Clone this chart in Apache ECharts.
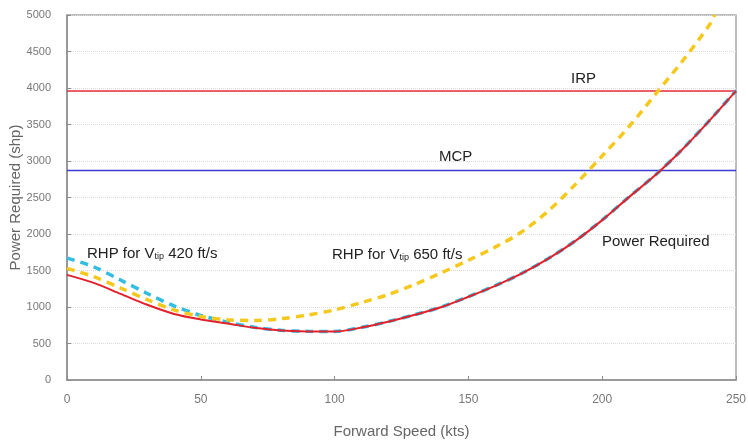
<!DOCTYPE html>
<html>
<head>
<meta charset="utf-8">
<script src="https://cdn.jsdelivr.net/npm/echarts@6/dist/echarts.min.js"></script>
<style>html,body{margin:0;padding:0;background:#fff;}#c{width:748px;height:442px;}</style>
</head>
<body>
<div id="c"></div>
<script>
var speeds = [0,10,20,30,40,50,60,70,80,90,100,110,120,130,140,150,160,170,180,190,200,210,220,230,240,250];
var powerRequired = [1440,1330,1180,1030,905,830,775,715,678,665,663,718,798,893,1000,1140,1290,1460,1665,1905,2190,2505,2810,3160,3550,3960];
var rhp420 = [1670,1550,1370,1185,1015,885,792,722,680,667,665,720,800,895,1002,1142,1292,1462,1667,1907,2192,2507,2812,3162,3552,3962];
var speeds650 = [0,10,20,30,40,50,60,70,80,90,100,110,120,130,140,150,160,170,180,190,200,210,220,230,240,242];
var rhp650 = [1530,1415,1260,1100,960,870,825,815,840,890,960,1060,1170,1310,1470,1640,1820,2030,2320,2680,3070,3470,3920,4370,4860,5000];
var irp = 3960;
var mcp = 2870;

function pairs(xs, ys){ return xs.map(function(x,i){ return [x, ys[i]]; }); }

var chart = echarts.init(document.getElementById('c'), null, {renderer:'canvas'});
var font = 'Liberation Sans, Arial, sans-serif';
var rich = {
  a:{fontSize:15,fontFamily:font,fill:'#222'},
  s:{fontSize:9,fontFamily:font,fill:'#222',verticalAlign:'bottom',padding:[7,0,0,0]}
};
chart.setOption({
  animation:false,
  backgroundColor:'#fff',
  grid:{left:67,right:12,top:15,bottom:62,show:true,borderColor:'#a6a6a6',borderWidth:1.5,containLabel:false,outerBoundsMode:'none'},
  xAxis:{
    type:'value',min:0,max:250,interval:50,
    name:'Forward Speed (kts)',nameLocation:'middle',nameGap:44,nameMoveOverlap:false,
    nameTextStyle:{color:'#666',fontSize:15,fontFamily:font},
    axisLine:{lineStyle:{color:'#8c8c8c',width:1.5}},
    axisTick:{inside:true,length:4,lineStyle:{color:'#8c8c8c'}},
    axisLabel:{color:'#777',fontSize:12,fontFamily:font,margin:14},
    splitLine:{show:false}
  },
  yAxis:{
    type:'value',min:0,max:5000,interval:500,
    name:'Power Required (shp)',nameLocation:'middle',nameGap:44,nameMoveOverlap:false,
    nameTextStyle:{color:'#666',fontSize:15,fontFamily:font},
    axisLine:{show:true,lineStyle:{color:'#8c8c8c',width:1.5}},
    axisTick:{show:true,inside:true,length:4,lineStyle:{color:'#8c8c8c'}},
    axisLabel:{color:'#777',fontSize:11,fontFamily:font,margin:16,formatter:function(v){return String(v);}},
    splitLine:{show:true,lineStyle:{color:'#d9d9d9',type:'dotted',width:1}}
  },
  series:[
    {type:'line',name:'IRP',data:[[0,irp],[250,irp]],showSymbol:false,lineStyle:{color:'#e8283a',width:1.5},z:2},
    {type:'line',name:'MCP',data:[[0,mcp],[250,mcp]],showSymbol:false,lineStyle:{color:'#3a3ad6',width:1.5},z:2},
    {type:'line',name:'RHP 420',data:pairs(speeds,rhp420),smooth:0.3,showSymbol:false,lineStyle:{color:'#33bde0',width:3.5,type:[8,6]},z:3},
    {type:'line',name:'Power Required',data:pairs(speeds,powerRequired),smooth:0.3,showSymbol:false,lineStyle:{color:'#e3202c',width:2},z:4},
    {type:'line',name:'RHP 650',data:pairs(speeds650,rhp650),smooth:0.3,showSymbol:false,lineStyle:{color:'#f5c81e',width:3.5,type:[8,6]},z:5}
  ],
  graphic:[
    {type:'text',left:87,top:246,style:{rich:rich,text:'{a|RHP for V}{s|tip}{a| 420 ft/s}'}},
    {type:'text',left:332,top:247,style:{rich:rich,text:'{a|RHP for V}{s|tip}{a| 650 ft/s}'}},
    {type:'text',left:602,top:234,style:{text:'Power Required',fontSize:15,fontFamily:font,fill:'#222'}},
    {type:'text',left:571,top:71,style:{text:'IRP',fontSize:15,fontFamily:font,fill:'#222'}},
    {type:'text',left:439,top:149,style:{text:'MCP',fontSize:15,fontFamily:font,fill:'#222'}}
  ]
});
</script>
</body>
</html>
